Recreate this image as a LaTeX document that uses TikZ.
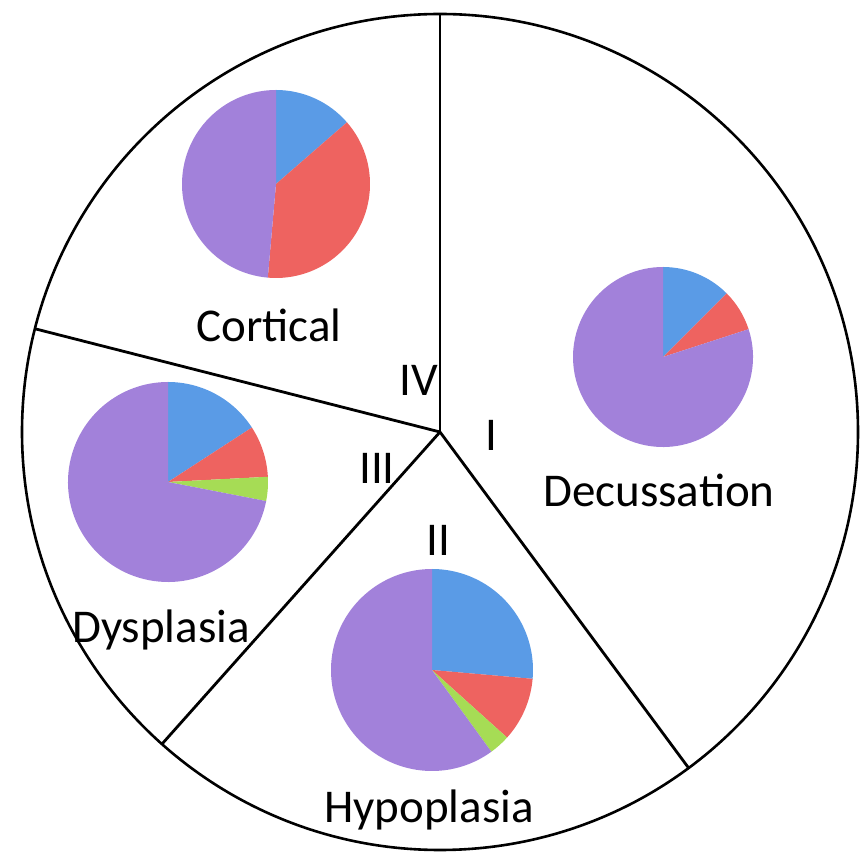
\documentclass[tikz,border=0pt]{standalone}
\usepackage{fontspec}
\setmainfont{Carlito}
\usepackage{tikz}

\definecolor{pieblue}{HTML}{5A9BE6}
\definecolor{piered}{HTML}{EE6360}
\definecolor{piegreen}{HTML}{A6DC55}
\definecolor{piepurple}{HTML}{A281DA}

\begin{document}
\begin{tikzpicture}[x=0.5pt,y=0.5pt,
    rim/.style={line width=1.3pt},
    divider/.style={line width=1.4pt},
    lbl/.style={font=\fontsize{23.5}{28}\selectfont, inner sep=0pt}
  ]
  \useasboundingbox (0,0) rectangle (868,857);

  \coordinate (o) at (440,425);
  \draw[rim] (o) circle[radius=418];

  \path (o) ++(90:418)    coordinate (top)
        (o) ++(165.7:418) coordinate (left)
        (o) ++(228.3:418) coordinate (lowleft)
        (o) ++(306.5:418) coordinate (lowright);

  \path[divider] (o) edge (top)
                 (o) edge (left)
                 (o) edge (lowleft)
                 (o) edge (lowright);

  \coordinate (cortical)   at (276,673);
  \coordinate (decussation) at (663,500);
  \coordinate (dysplasia)  at (168,375);
  \coordinate (hypoplasia) at (432,187);

  \foreach \p/\r/\a/\b/\col in {%
      cortical/94/90/41/pieblue,      cortical/94/41/-95/piered,     cortical/94/-95/-270/piepurple,
      decussation/90/90/45/pieblue,   decussation/90/45/18/piered,   decussation/90/18/-270/piepurple,
      dysplasia/100/90/33/pieblue,    dysplasia/100/33/3/piered,     dysplasia/100/3/-11/piegreen,
      dysplasia/100/-11/-270/piepurple,
      hypoplasia/101/90/-5/pieblue,   hypoplasia/101/-5/-42/piered,  hypoplasia/101/-42/-54/piegreen,
      hypoplasia/101/-54/-270/piepurple}
    {\fill[\col] (\p) -- ++(\a:\r) arc[start angle=\a, end angle=\b, radius=\r] -- cycle;}

  \node[lbl] (tcortical)    at (269,532) {Cortical};
  \node[lbl] (tdecussation) at (659,367) {Decussation};
  \node[lbl] (tdysplasia)   at (161,227) {Dysplasia};
  \node[lbl] (thypoplasia)  at (429,47)  {Hypoplasia};

  \node[lbl] (siv)  at (419,477) {IV};
  \node[lbl] (si)   at (491,422) {I};
  \node[lbl] (siii) at (377,389) {III};
  \node[lbl] (sii)  at (438,317) {II};
\end{tikzpicture}
\end{document}
